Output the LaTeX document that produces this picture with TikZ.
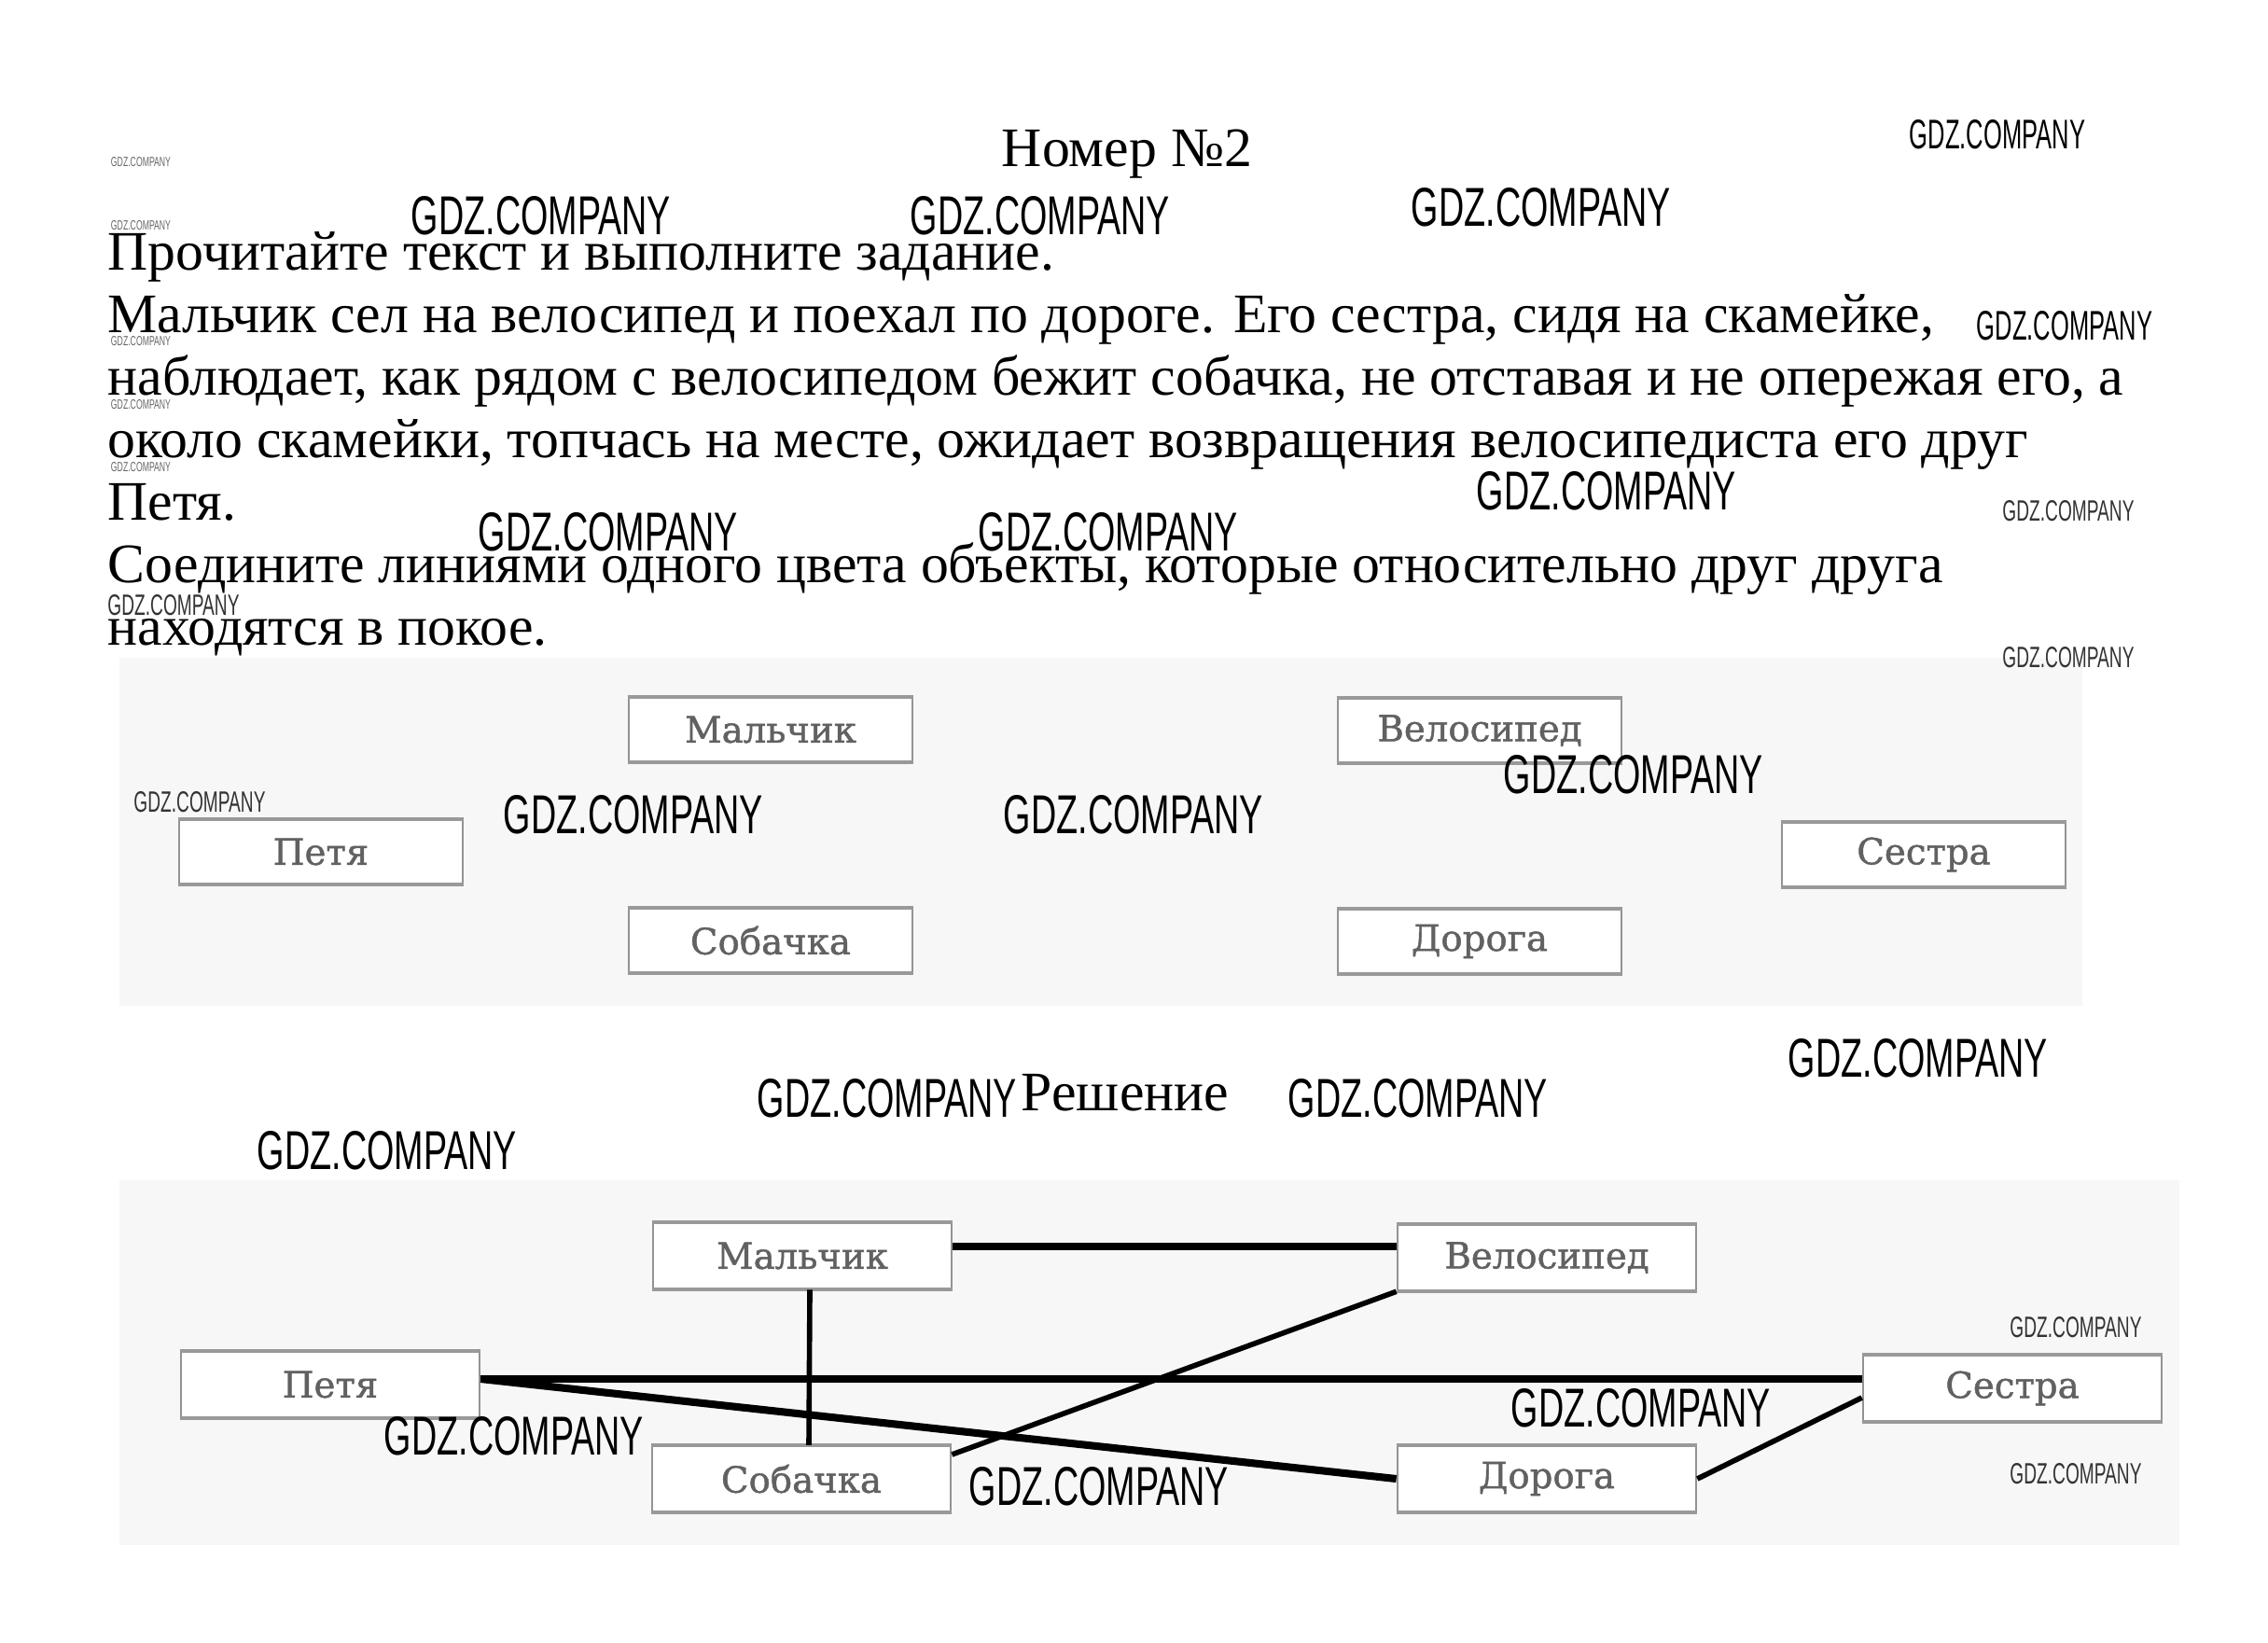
\documentclass[tikz,border=0pt]{standalone}
\usepackage{fontspec}
\usepackage{graphicx}
\setmainfont{Liberation Serif}
\newfontfamily\boxfont[FakeBold=1.2]{DejaVu Serif}
\newfontfamily\wmfont{Liberation Sans}
\usepackage{tikz}

\newcommand\gdz[2]{\resizebox{#1}{#2}{\wmfont GDZ.COMPANY}}

\begin{document}
\begin{tikzpicture}[
  x = 0.01cm,
  y = -0.01cm,
  line cap=butt,
  txt/.style   = {anchor=base west, inner sep=0pt, font=\fontsize{17}{19}\selectfont},
  panel/.style = {fill=gray!6},
  cell/.style  = {draw=gray!85, line width=0.7pt, fill=white, inner sep=0pt,
                  minimum width=3.04cm, minimum height=0.68cm, text=black!62,
                  font=\boxfont\fontsize{11}{12}\selectfont},
  cell2/.style = {cell, minimum width=3.2cm, minimum height=0.7cm},
  rim/.style   = {draw=gray!80, line width=1.1pt},
  heavy/.style = {line width=2.3pt},
  thin/.style  = {line width=1.6pt},
  wm/.style    = {inner sep=0pt}
]
  \def\W{2431} \def\H{1760}
  \fill[white] (0,0) rectangle (\W,\H);
  \useasboundingbox (0,0) rectangle (\W,\H);

  % условие
  \node (title) at (1208,178) [anchor=base, inner sep=0pt, font=\fontsize{17}{19}\selectfont] {Номер №2};
  \node (l1) at (115,289) [txt] {Прочитайте текст и выполните задание.};
  \node (l2) at (115,356) [txt] {Мальчик сел на велосипед и поехал по дороге. Его сестра, сидя на скамейке,};
  \node (l3) at (115,423) [txt] {наблюдает, как рядом с велосипедом бежит собачка, не отставая и не опережая его, а};
  \node (l4) at (115,490) [txt] {около скамейки, топчась на месте, ожидает возвращения велосипедиста его друг};
  \node (l5) at (115,557) [txt] {Петя.};
  \node (l6) at (115,624) [txt] {Соедините линиями одного цвета объекты, которые относительно друг друга};
  \node (l7) at (115,691) [txt] {находятся в покое.};

  % задание
  \fill[panel] (128,705) rectangle (2232,1078);
  \node (m1) at (826,782)    [cell] {Мальчик};
  \node (v1) at (1586,783)   [cell] {Велосипед};
  \node (p1) at (344,913)    [cell] {Петя};
  \node (s1) at (2062,916)   [cell] {Сестра};
  \node (d1) at (826,1008)   [cell] {Собачка};
  \node (r1) at (1586,1009)  [cell] {Дорога};

  % решение
  \node (sol) at (1206,1190) [anchor=base, inner sep=0pt, font=\fontsize{17}{19}\selectfont] {Решение};
  \fill[panel] (128,1265) rectangle (2336,1656);
  \node (m2) at (860,1346)   [cell2] {Мальчик};
  \node (v2) at (1658,1348)  [cell2] {Велосипед};
  \node (p2) at (354,1484)   [cell2] {Петя};
  \node (s2) at (2157,1488)  [cell2] {Сестра};
  \node (d2) at (859,1585)   [cell2] {Собачка};
  \node (r2) at (1658,1585)  [cell2] {Дорога};

  \foreach \n in {m1,v1,p1,s1,d1,r1,m2,v2,p2,s2,d2,r2}
    \draw[rim] (\n.north west) -- (\n.north east) (\n.south west) -- (\n.south east);

  \draw[heavy] ([yshift=.1cm]m2.east) -- ([yshift=.1cm]m2.east -| v2.west);
  \draw[thin]  ([xshift=.08cm]m2.south) -- ([xshift=.08cm]d2.north);
  \draw[heavy] ([yshift=.06cm]p2.east) -- ([yshift=.06cm]p2.east -| s2.west);
  \draw[heavy] ([yshift=.06cm]p2.east) -- (r2.west);
  \draw[thin]  ([yshift=.26cm]d2.east) -- (v2.south west);
  \draw[thin]  (r2.east) -- ([yshift=-.1cm]s2.west);

  % GDZ.COMPANY
  \foreach \x/\y [count=\i] in {580/231, 1115/231, 1652/222, 1722/526, 652/570, 1188/570,
      1751/830, 679/873, 1215/873, 2056/1134, 951/1177, 1520/1177, 415/1233,
      1759/1509, 551/1539, 1178/1593}
    \node[wm] (wa\i) at (\x,\y) {\gdz{2.78cm}{0.41cm}};
  \foreach \x/\y [count=\i] in {2141/144, 2213/349}
    \node[wm] (wb\i) at (\x,\y) {\gdz{1.88cm}{0.31cm}};
  \foreach \x/\y [count=\i] in {2217/548, 2217/705, 186/649, 214/860, 2225/1423, 2225/1580}
    \node[wm, text=black!80] (wc\i) at (\x,\y) {\gdz{1.41cm}{0.22cm}};
  \foreach \y [count=\i] in {174, 242, 366, 434, 501}
    \node[wm, text=black!60] (wd\i) at (151,\y) {\gdz{0.64cm}{0.10cm}};
\end{tikzpicture}
\end{document}
